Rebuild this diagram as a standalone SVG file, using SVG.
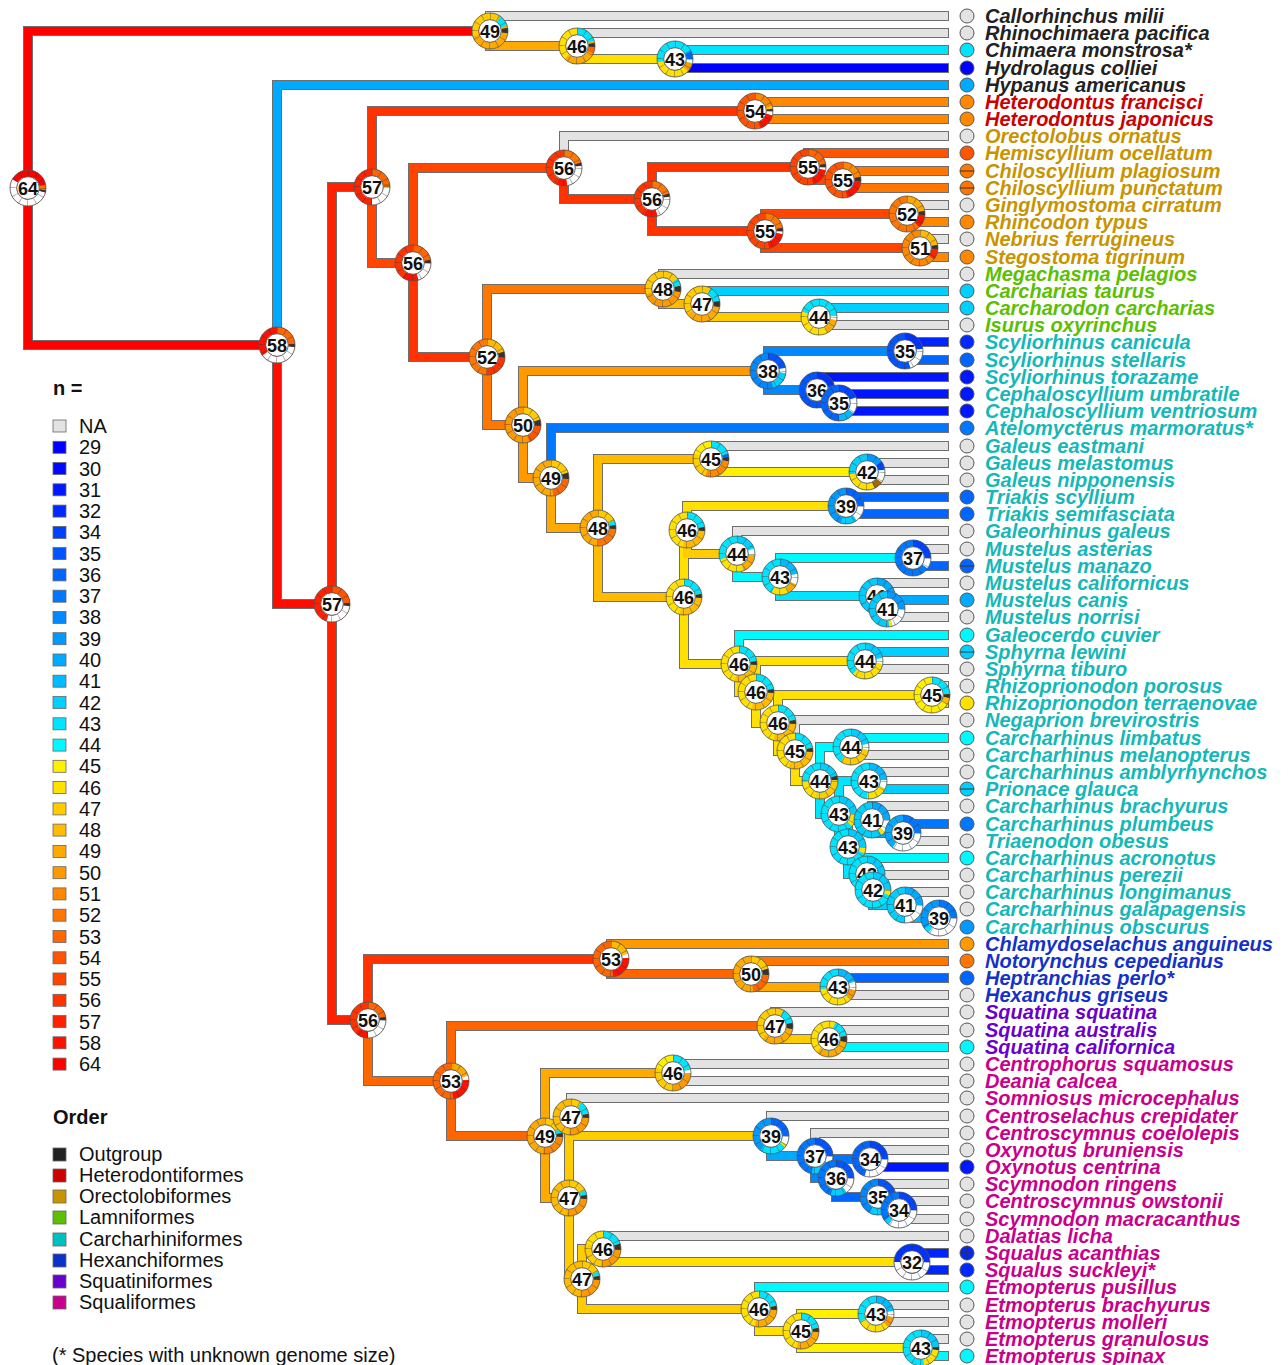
<svg xmlns="http://www.w3.org/2000/svg" xmlns:xlink="http://www.w3.org/1999/xlink" width="1288" height="1365" viewBox="0 0 1288 1365">
<style>
#edges path{fill:none;stroke-width:8;stroke-linecap:square;stroke-linejoin:miter}
.b{fill:none;stroke-width:6.5}
.sg circle{fill:none;stroke-width:6.5}
.nt{font:bold 18px "Liberation Sans",Arial,sans-serif;text-anchor:middle;fill:#111}
.lc{stroke:#555;stroke-width:1}
.sp{font:italic bold 20px "Liberation Sans",Arial,sans-serif}
.og{fill:#222}.ht{fill:#cc0000}.or{fill:#c89400}.la{fill:#5cc000}.ca{fill:#14b8b8}.hx{fill:#1432c8}.sq{fill:#6a00cc}.sl{fill:#c8008c}
.lg{font:20px "Liberation Sans",Arial,sans-serif;fill:#111}
.lh{font:bold 20px "Liberation Sans",Arial,sans-serif;fill:#111}
.ls{stroke:#666;stroke-width:.8}
.mk{stroke:#333;stroke-width:1}
</style>
<defs>
<filter id="ol" filterUnits="userSpaceOnUse" x="0" y="0" width="1288" height="1365">
<feMorphology in="SourceAlpha" operator="dilate" radius="1" result="d"/>
<feFlood flood-color="#6e6e6e" result="c"/>
<feComposite in="c" in2="d" operator="in" result="o"/>
<feMerge><feMergeNode in="o"/><feMergeNode in="SourceGraphic"/></feMerge>
</filter>
<g id="cap">
<circle r="14.75" fill="none" stroke="#333" stroke-width="6.5" stroke-opacity=".45" pathLength="100" stroke-dasharray="0.9 7.433"/>
<circle r="11.3" fill="#fff" stroke="#444" stroke-width=".8"/>
<circle r="18" fill="none" stroke="#555" stroke-width=".8"/>
</g>
</defs>
<rect width="1288" height="1365" fill="#fff"/>

<g id="edges" filter="url(#ol)">
<path stroke="#f00" d="M28 188V31H490"/>
<path stroke="#f00" d="M28 188V345H277"/>
<path stroke="#e3e3e3" d="M490 31V16H944"/>
<path stroke="#fa0" d="M490 31V46H577"/>
<path stroke="#e3e3e3" d="M577 46V33H944"/>
<path stroke="#ffe000" d="M577 46V59H675"/>
<path stroke="#00e4ff" d="M675 59V50H944"/>
<path stroke="#00f" d="M675 59V68H944"/>
<path stroke="#0af" d="M277 345V85H944"/>
<path stroke="#f10" d="M277 345V604H332"/>
<path stroke="#f20" d="M332 604V187H372"/>
<path stroke="#f20" d="M332 604V1020H368"/>
<path stroke="#f30" d="M372 187V111H755"/>
<path stroke="#f40" d="M372 187V263H413"/>
<path stroke="#f80" d="M755 111V102H944"/>
<path stroke="#f80" d="M755 111V119H944"/>
<path stroke="#f40" d="M413 263V168H564"/>
<path stroke="#f30" d="M413 263V357H487"/>
<path stroke="#e3e3e3" d="M564 168V136H944"/>
<path stroke="#f30" d="M564 168V199H652"/>
<path stroke="#f30" d="M652 199V167H808"/>
<path stroke="#f30" d="M652 199V231H765"/>
<path stroke="#f50" d="M808 167V153H944"/>
<path stroke="#f40" d="M808 167V180H843"/>
<path stroke="#f70" d="M843 180V171H944"/>
<path stroke="#f70" d="M843 180V188H944"/>
<path stroke="#f40" d="M765 231V214H907"/>
<path stroke="#f40" d="M765 231V248H920"/>
<path stroke="#e3e3e3" d="M907 214V205H944"/>
<path stroke="#f80" d="M907 214V222H944"/>
<path stroke="#e3e3e3" d="M920 248V239H944"/>
<path stroke="#f80" d="M920 248V257H944"/>
<path stroke="#f70" d="M487 357V289H663"/>
<path stroke="#f70" d="M487 357V425H523"/>
<path stroke="#e3e3e3" d="M663 289V274H944"/>
<path stroke="#fb0" d="M663 289V304H702"/>
<path stroke="#00d0ff" d="M702 304V291H944"/>
<path stroke="#fc0" d="M702 304V317H819"/>
<path stroke="#00d0ff" d="M819 317V308H944"/>
<path stroke="#e3e3e3" d="M819 317V325H944"/>
<path stroke="#f90" d="M523 425V371H768"/>
<path stroke="#f90" d="M523 425V478H551"/>
<path stroke="#08f" d="M768 371V351H905"/>
<path stroke="#08f" d="M768 371V390H817"/>
<path stroke="#0028ff" d="M905 351V342H944"/>
<path stroke="#06f" d="M905 351V360H944"/>
<path stroke="#0018ff" d="M817 390V377H944"/>
<path stroke="#08f" d="M817 390V403H839"/>
<path stroke="#0018ff" d="M839 403V394H944"/>
<path stroke="#0018ff" d="M839 403V411H944"/>
<path stroke="#07f" d="M551 478V428H944"/>
<path stroke="#fa0" d="M551 478V528H598"/>
<path stroke="#fb0" d="M598 528V459H711"/>
<path stroke="#fb0" d="M598 528V597H684"/>
<path stroke="#e3e3e3" d="M711 459V446H944"/>
<path stroke="#fff000" d="M711 459V472H867"/>
<path stroke="#e3e3e3" d="M867 472V463H944"/>
<path stroke="#e3e3e3" d="M867 472V480H944"/>
<path stroke="#ffe000" d="M684 597V530H687"/>
<path stroke="#ffe000" d="M684 597V664H739"/>
<path stroke="#ffe000" d="M687 530V506H846"/>
<path stroke="#fc0" d="M687 530V554H737"/>
<path stroke="#06f" d="M846 506V497H944"/>
<path stroke="#06f" d="M846 506V514H944"/>
<path stroke="#e3e3e3" d="M737 554V531H944"/>
<path stroke="#00f8ff" d="M737 554V577H780"/>
<path stroke="#00f8ff" d="M780 577V558H913"/>
<path stroke="#00e4ff" d="M780 577V596H877"/>
<path stroke="#e3e3e3" d="M913 558V549H944"/>
<path stroke="#06f" d="M913 558V566H944"/>
<path stroke="#e3e3e3" d="M877 596V583H944"/>
<path stroke="#00d0ff" d="M877 596V609H887"/>
<path stroke="#0af" d="M887 609V600H944"/>
<path stroke="#e3e3e3" d="M887 609V617H944"/>
<path stroke="#00f8ff" d="M739 664V635H944"/>
<path stroke="#ffe000" d="M739 664V692H756"/>
<path stroke="#ffe000" d="M756 692V661H865"/>
<path stroke="#ffe000" d="M756 692V723H778"/>
<path stroke="#00d0ff" d="M865 661V652H944"/>
<path stroke="#e3e3e3" d="M865 661V669H944"/>
<path stroke="#ffe000" d="M778 723V695H932"/>
<path stroke="#ffe000" d="M778 723V751H795"/>
<path stroke="#e3e3e3" d="M932 695V686H944"/>
<path stroke="#ffe000" d="M932 695V703H944"/>
<path stroke="#e3e3e3" d="M795 751V720H944"/>
<path stroke="#ffe000" d="M795 751V781H820"/>
<path stroke="#00f8ff" d="M820 781V747H851"/>
<path stroke="#00e4ff" d="M820 781V814H839"/>
<path stroke="#00f8ff" d="M851 747V738H944"/>
<path stroke="#e3e3e3" d="M851 747V755H944"/>
<path stroke="#00e4ff" d="M839 814V781H869"/>
<path stroke="#00e4ff" d="M839 814V847H848"/>
<path stroke="#e3e3e3" d="M869 781V772H944"/>
<path stroke="#00d0ff" d="M869 781V789H944"/>
<path stroke="#00e4ff" d="M848 847V820H872"/>
<path stroke="#00e4ff" d="M848 847V874H867"/>
<path stroke="#e3e3e3" d="M872 820V806H944"/>
<path stroke="#0af" d="M872 820V833H903"/>
<path stroke="#07f" d="M903 833V824H944"/>
<path stroke="#e3e3e3" d="M903 833V841H944"/>
<path stroke="#00f8ff" d="M867 874V858H944"/>
<path stroke="#00e4ff" d="M867 874V890H873"/>
<path stroke="#e3e3e3" d="M873 890V875H944"/>
<path stroke="#00d0ff" d="M873 890V905H905"/>
<path stroke="#e3e3e3" d="M905 905V892H944"/>
<path stroke="#0bf" d="M905 905V918H939"/>
<path stroke="#e3e3e3" d="M939 918V909H944"/>
<path stroke="#09f" d="M939 918V927H944"/>
<path stroke="#f30" d="M368 1020V959H611"/>
<path stroke="#f60" d="M368 1020V1081H451"/>
<path stroke="#f90" d="M611 959V944H944"/>
<path stroke="#f60" d="M611 959V974H751"/>
<path stroke="#f70" d="M751 974V961H944"/>
<path stroke="#fa0" d="M751 974V987H838"/>
<path stroke="#06f" d="M838 987V978H944"/>
<path stroke="#e3e3e3" d="M838 987V995H944"/>
<path stroke="#f60" d="M451 1081V1026H775"/>
<path stroke="#f60" d="M451 1081V1136H545"/>
<path stroke="#e3e3e3" d="M775 1026V1012H944"/>
<path stroke="#fc0" d="M775 1026V1039H829"/>
<path stroke="#e3e3e3" d="M829 1039V1030H944"/>
<path stroke="#00f8ff" d="M829 1039V1047H944"/>
<path stroke="#fa0" d="M545 1136V1073H673"/>
<path stroke="#fa0" d="M545 1136V1198H569"/>
<path stroke="#e3e3e3" d="M673 1073V1064H944"/>
<path stroke="#e3e3e3" d="M673 1073V1081H944"/>
<path stroke="#fc0" d="M569 1198V1117H571"/>
<path stroke="#fc0" d="M569 1198V1279H582"/>
<path stroke="#e3e3e3" d="M571 1117V1098H944"/>
<path stroke="#fc0" d="M571 1117V1136H771"/>
<path stroke="#e3e3e3" d="M771 1136V1116H944"/>
<path stroke="#0af" d="M771 1136V1156H815"/>
<path stroke="#e3e3e3" d="M815 1156V1133H944"/>
<path stroke="#08f" d="M815 1156V1178H836"/>
<path stroke="#07f" d="M836 1178V1159H870"/>
<path stroke="#06f" d="M836 1178V1197H878"/>
<path stroke="#e3e3e3" d="M870 1159V1150H944"/>
<path stroke="#0018ff" d="M870 1159V1167H944"/>
<path stroke="#e3e3e3" d="M878 1197V1184H944"/>
<path stroke="#05f" d="M878 1197V1210H899"/>
<path stroke="#e3e3e3" d="M899 1210V1201H944"/>
<path stroke="#e3e3e3" d="M899 1210V1219H944"/>
<path stroke="#fc0" d="M582 1279V1249H603"/>
<path stroke="#fc0" d="M582 1279V1309H759"/>
<path stroke="#e3e3e3" d="M603 1249V1236H944"/>
<path stroke="#ffe000" d="M603 1249V1262H912"/>
<path stroke="#0028ff" d="M912 1262V1253H944"/>
<path stroke="#0028ff" d="M912 1262V1270H944"/>
<path stroke="#00f8ff" d="M759 1309V1287H944"/>
<path stroke="#ffe000" d="M759 1309V1331H801"/>
<path stroke="#fff000" d="M801 1331V1314H876"/>
<path stroke="#fff000" d="M801 1331V1348H921"/>
<path stroke="#e3e3e3" d="M876 1314V1305H944"/>
<path stroke="#e3e3e3" d="M876 1314V1322H944"/>
<path stroke="#e3e3e3" d="M921 1348V1339H944"/>
<path stroke="#00f8ff" d="M921 1348V1356H944"/>
</g>

<g id="n64" transform="translate(28 188)"><circle class="b" r="14.75" stroke="#f00"/><g class="sg" transform="rotate(-90)"><circle r="14.75" pathLength="100" stroke="#fff" stroke-dasharray="54 100" stroke-dashoffset="-29"/><circle r="14.75" pathLength="100" stroke="#f70" stroke-dasharray="5 100" stroke-dashoffset="-22"/><circle r="14.75" pathLength="100" stroke="#333" stroke-dasharray="2 100" stroke-dashoffset="-27"/></g><use href="#cap"/><text class="nt" y="6.5">64</text></g>
<g id="nA49" transform="translate(490 31)"><circle class="b" r="14.75" stroke="#fa0"/><g class="sg" transform="rotate(-90)"><circle r="14.75" pathLength="100" stroke="#fc0" stroke-dasharray="30 100" stroke-dashoffset="-70"/><circle r="14.75" pathLength="100" stroke="#fc0" stroke-dasharray="10 100"/><circle r="14.75" pathLength="100" stroke="#00e4ff" stroke-dasharray="10 100" stroke-dashoffset="-10"/><circle r="14.75" pathLength="100" stroke="#333" stroke-dasharray="5 100" stroke-dashoffset="-22"/></g><use href="#cap"/><text class="nt" y="6.5">49</text></g>
<g id="nA46" transform="translate(577 46)"><circle class="b" r="14.75" stroke="#fa0"/><g class="sg" transform="rotate(-90)"><circle r="14.75" pathLength="100" stroke="#ffe000" stroke-dasharray="38 100" stroke-dashoffset="-62"/><circle r="14.75" pathLength="100" stroke="#00e4ff" stroke-dasharray="20 100"/><circle r="14.75" pathLength="100" stroke="#333" stroke-dasharray="4 100" stroke-dashoffset="-22"/><circle r="14.75" pathLength="100" stroke="#f60" stroke-dasharray="6 100" stroke-dashoffset="-26"/></g><use href="#cap"/><text class="nt" y="6.5">46</text></g>
<g id="nA43" transform="translate(675 59)"><circle class="b" r="14.75" stroke="#00e4ff"/><g class="sg" transform="rotate(-90)"><circle r="14.75" pathLength="100" stroke="#06f" stroke-dasharray="7 100" stroke-dashoffset="-18"/><circle r="14.75" pathLength="100" stroke="#fff" stroke-dasharray="4 100" stroke-dashoffset="-25"/><circle r="14.75" pathLength="100" stroke="#f90" stroke-dasharray="8 100" stroke-dashoffset="-29"/><circle r="14.75" pathLength="100" stroke="#ffe000" stroke-dasharray="35 100" stroke-dashoffset="-37"/></g><use href="#cap"/><text class="nt" y="6.5">43</text></g>
<g id="nB58" transform="translate(277 345)"><circle class="b" r="14.75" stroke="#f10"/><g class="sg" transform="rotate(-90)"><circle r="14.75" pathLength="100" stroke="#f60" stroke-dasharray="24 100"/><circle r="14.75" pathLength="100" stroke="#333" stroke-dasharray="3 100" stroke-dashoffset="-24"/><circle r="14.75" pathLength="100" stroke="#fff" stroke-dasharray="38 100" stroke-dashoffset="-27"/></g><use href="#cap"/><text class="nt" y="6.5">58</text></g>
<g id="nB57" transform="translate(332 604)"><circle class="b" r="14.75" stroke="#f20"/><g class="sg" transform="rotate(-90)"><circle r="14.75" pathLength="100" stroke="#f50" stroke-dasharray="24 100"/><circle r="14.75" pathLength="100" stroke="#333" stroke-dasharray="3 100" stroke-dashoffset="-24"/><circle r="14.75" pathLength="100" stroke="#fff" stroke-dasharray="28 100" stroke-dashoffset="-27"/></g><use href="#cap"/><text class="nt" y="6.5">57</text></g>
<g id="nC57" transform="translate(372 187)"><circle class="b" r="14.75" stroke="#f20"/><g class="sg" transform="rotate(-90)"><circle r="14.75" pathLength="100" stroke="#f60" stroke-dasharray="22 100"/><circle r="14.75" pathLength="100" stroke="#b60" stroke-dasharray="3 100" stroke-dashoffset="-22"/><circle r="14.75" pathLength="100" stroke="#fff" stroke-dasharray="25 100" stroke-dashoffset="-25"/></g><use href="#cap"/><text class="nt" y="6.5">57</text></g>
<g id="nC54" transform="translate(755 111)"><circle class="b" r="14.75" stroke="#f50"/><g class="sg" transform="rotate(-90)"><circle r="14.75" pathLength="100" stroke="#f80" stroke-dasharray="20 100"/><circle r="14.75" pathLength="100" stroke="#fc0" stroke-dasharray="3 100" stroke-dashoffset="-20"/><circle r="14.75" pathLength="100" stroke="#333" stroke-dasharray="2 100" stroke-dashoffset="-23"/><circle r="14.75" pathLength="100" stroke="#fff" stroke-dasharray="4 100" stroke-dashoffset="-25"/><circle r="14.75" pathLength="100" stroke="#f10" stroke-dasharray="16 100" stroke-dashoffset="-29"/></g><use href="#cap"/><text class="nt" y="6.5">54</text></g>
<g id="nC56a" transform="translate(413 263)"><circle class="b" r="14.75" stroke="#f30"/><g class="sg" transform="rotate(-90)"><circle r="14.75" pathLength="100" stroke="#f60" stroke-dasharray="22 100"/><circle r="14.75" pathLength="100" stroke="#333" stroke-dasharray="3 100" stroke-dashoffset="-22"/><circle r="14.75" pathLength="100" stroke="#fff" stroke-dasharray="20 100" stroke-dashoffset="-25"/><circle r="14.75" pathLength="100" stroke="#f10" stroke-dasharray="15 100" stroke-dashoffset="-45"/></g><use href="#cap"/><text class="nt" y="6.5">56</text></g>
<g id="nC56b" transform="translate(564 168)"><circle class="b" r="14.75" stroke="#f30"/><g class="sg" transform="rotate(-90)"><circle r="14.75" pathLength="100" stroke="#f70" stroke-dasharray="20 100"/><circle r="14.75" pathLength="100" stroke="#333" stroke-dasharray="3 100" stroke-dashoffset="-20"/><circle r="14.75" pathLength="100" stroke="#fff" stroke-dasharray="24 100" stroke-dashoffset="-23"/><circle r="14.75" pathLength="100" stroke="#f10" stroke-dasharray="10 100" stroke-dashoffset="-47"/></g><use href="#cap"/><text class="nt" y="6.5">56</text></g>
<g id="nC56c" transform="translate(652 199)"><circle class="b" r="14.75" stroke="#f30"/><g class="sg" transform="rotate(-90)"><circle r="14.75" pathLength="100" stroke="#f70" stroke-dasharray="20 100"/><circle r="14.75" pathLength="100" stroke="#333" stroke-dasharray="3 100" stroke-dashoffset="-20"/><circle r="14.75" pathLength="100" stroke="#fff" stroke-dasharray="22 100" stroke-dashoffset="-23"/><circle r="14.75" pathLength="100" stroke="#f10" stroke-dasharray="12 100" stroke-dashoffset="-45"/></g><use href="#cap"/><text class="nt" y="6.5">56</text></g>
<g id="nC55a" transform="translate(808 167)"><circle class="b" r="14.75" stroke="#f40"/><g class="sg" transform="rotate(-90)"><circle r="14.75" pathLength="100" stroke="#f60" stroke-dasharray="22 100"/><circle r="14.75" pathLength="100" stroke="#333" stroke-dasharray="3 100" stroke-dashoffset="-22"/><circle r="14.75" pathLength="100" stroke="#fff" stroke-dasharray="3 100" stroke-dashoffset="-25"/><circle r="14.75" pathLength="100" stroke="#f10" stroke-dasharray="17 100" stroke-dashoffset="-28"/></g><use href="#cap"/><text class="nt" y="6.5">55</text></g>
<g id="nC55c" transform="translate(843 180)"><circle class="b" r="14.75" stroke="#f50"/><g class="sg" transform="rotate(-90)"><circle r="14.75" pathLength="100" stroke="#f80" stroke-dasharray="22 100"/><circle r="14.75" pathLength="100" stroke="#333" stroke-dasharray="4 100" stroke-dashoffset="-22"/><circle r="14.75" pathLength="100" stroke="#f10" stroke-dasharray="20 100" stroke-dashoffset="-26"/></g><use href="#cap"/><text class="nt" y="6.5">55</text></g>
<g id="nC55b" transform="translate(765 231)"><circle class="b" r="14.75" stroke="#f40"/><g class="sg" transform="rotate(-90)"><circle r="14.75" pathLength="100" stroke="#f70" stroke-dasharray="22 100"/><circle r="14.75" pathLength="100" stroke="#333" stroke-dasharray="3 100" stroke-dashoffset="-22"/><circle r="14.75" pathLength="100" stroke="#fff" stroke-dasharray="3 100" stroke-dashoffset="-25"/><circle r="14.75" pathLength="100" stroke="#f10" stroke-dasharray="18 100" stroke-dashoffset="-28"/></g><use href="#cap"/><text class="nt" y="6.5">55</text></g>
<g id="nC52" transform="translate(907 214)"><circle class="b" r="14.75" stroke="#f70"/><g class="sg" transform="rotate(-90)"><circle r="14.75" pathLength="100" stroke="#fa0" stroke-dasharray="22 100"/><circle r="14.75" pathLength="100" stroke="#333" stroke-dasharray="4 100" stroke-dashoffset="-22"/><circle r="14.75" pathLength="100" stroke="#f10" stroke-dasharray="12 100" stroke-dashoffset="-26"/></g><use href="#cap"/><text class="nt" y="6.5">52</text></g>
<g id="nC51" transform="translate(920 248)"><circle class="b" r="14.75" stroke="#f80"/><g class="sg" transform="rotate(-90)"><circle r="14.75" pathLength="100" stroke="#fb0" stroke-dasharray="22 100"/><circle r="14.75" pathLength="100" stroke="#333" stroke-dasharray="4 100" stroke-dashoffset="-22"/><circle r="14.75" pathLength="100" stroke="#f20" stroke-dasharray="10 100" stroke-dashoffset="-26"/></g><use href="#cap"/><text class="nt" y="6.5">51</text></g>
<g id="nD52" transform="translate(487 357)"><circle class="b" r="14.75" stroke="#f70"/><g class="sg" transform="rotate(-90)"><circle r="14.75" pathLength="100" stroke="#fb0" stroke-dasharray="20 100"/><circle r="14.75" pathLength="100" stroke="#333" stroke-dasharray="5 100" stroke-dashoffset="-20"/><circle r="14.75" pathLength="100" stroke="#f30" stroke-dasharray="25 100" stroke-dashoffset="-25"/></g><use href="#cap"/><text class="nt" y="6.5">52</text></g>
<g id="nD48" transform="translate(663 289)"><circle class="b" r="14.75" stroke="#f90"/><g class="sg" transform="rotate(-90)"><circle r="14.75" pathLength="100" stroke="#fc0" stroke-dasharray="30 100" stroke-dashoffset="-70"/><circle r="14.75" pathLength="100" stroke="#fc0" stroke-dasharray="15 100"/><circle r="14.75" pathLength="100" stroke="#00e4ff" stroke-dasharray="7 100" stroke-dashoffset="-15"/><circle r="14.75" pathLength="100" stroke="#333" stroke-dasharray="6 100" stroke-dashoffset="-22"/></g><use href="#cap"/><text class="nt" y="6.5">48</text></g>
<g id="nD47" transform="translate(702 304)"><circle class="b" r="14.75" stroke="#fa0"/><g class="sg" transform="rotate(-90)"><circle r="14.75" pathLength="100" stroke="#fc0" stroke-dasharray="35 100" stroke-dashoffset="-65"/><circle r="14.75" pathLength="100" stroke="#fc0" stroke-dasharray="8 100"/><circle r="14.75" pathLength="100" stroke="#00e4ff" stroke-dasharray="14 100" stroke-dashoffset="-8"/><circle r="14.75" pathLength="100" stroke="#333" stroke-dasharray="6 100" stroke-dashoffset="-22"/></g><use href="#cap"/><text class="nt" y="6.5">47</text></g>
<g id="nD44" transform="translate(819 317)"><circle class="b" r="14.75" stroke="#ffe000"/><g class="sg" transform="rotate(-90)"><circle r="14.75" pathLength="100" stroke="#00e4ff" stroke-dasharray="20 100" stroke-dashoffset="-80"/><circle r="14.75" pathLength="100" stroke="#00e4ff" stroke-dasharray="24 100"/><circle r="14.75" pathLength="100" stroke="#fff" stroke-dasharray="4 100" stroke-dashoffset="-24"/><circle r="14.75" pathLength="100" stroke="#fa0" stroke-dasharray="14 100" stroke-dashoffset="-28"/></g><use href="#cap"/><text class="nt" y="6.5">44</text></g>
<g id="nD50" transform="translate(523 425)"><circle class="b" r="14.75" stroke="#f90"/><g class="sg" transform="rotate(-90)"><circle r="14.75" pathLength="100" stroke="#fc0" stroke-dasharray="20 100"/><circle r="14.75" pathLength="100" stroke="#333" stroke-dasharray="6 100" stroke-dashoffset="-20"/><circle r="14.75" pathLength="100" stroke="#f50" stroke-dasharray="18 100" stroke-dashoffset="-26"/></g><use href="#cap"/><text class="nt" y="6.5">50</text></g>
<g id="nD38" transform="translate(768 371)"><circle class="b" r="14.75" stroke="#08f"/><g class="sg" transform="rotate(-90)"><circle r="14.75" pathLength="100" stroke="#05f" stroke-dasharray="22 100"/><circle r="14.75" pathLength="100" stroke="#fff" stroke-dasharray="5 100" stroke-dashoffset="-22"/><circle r="14.75" pathLength="100" stroke="#00d0ff" stroke-dasharray="18 100" stroke-dashoffset="-27"/></g><use href="#cap"/><text class="nt" y="6.5">38</text></g>
<g id="nD35a" transform="translate(905 351)"><circle class="b" r="14.75" stroke="#05f"/><g class="sg" transform="rotate(-90)"><circle r="14.75" pathLength="100" stroke="#03f" stroke-dasharray="23 100"/><circle r="14.75" pathLength="100" stroke="#fff" stroke-dasharray="22 100" stroke-dashoffset="-23"/></g><use href="#cap"/><text class="nt" y="6.5">35</text></g>
<g id="nD36" transform="translate(817 390)"><circle class="b" r="14.75" stroke="#05f"/><g class="sg" transform="rotate(-90)"><circle r="14.75" pathLength="100" stroke="#03f" stroke-dasharray="20 100"/><circle r="14.75" pathLength="100" stroke="#fff" stroke-dasharray="4 100" stroke-dashoffset="-22"/></g><use href="#cap"/><text class="nt" y="6.5">36</text></g>
<g id="nD35b" transform="translate(839 403)"><circle class="b" r="14.75" stroke="#06f"/><g class="sg" transform="rotate(-90)"><circle r="14.75" pathLength="100" stroke="#04f" stroke-dasharray="20 100"/><circle r="14.75" pathLength="100" stroke="#fff" stroke-dasharray="15 100" stroke-dashoffset="-20"/><circle r="14.75" pathLength="100" stroke="#0bf" stroke-dasharray="15 100" stroke-dashoffset="-35"/></g><use href="#cap"/><text class="nt" y="6.5">35</text></g>
<g id="nD49" transform="translate(551 478)"><circle class="b" r="14.75" stroke="#fa0"/><g class="sg" transform="rotate(-90)"><circle r="14.75" pathLength="100" stroke="#fc0" stroke-dasharray="20 100"/><circle r="14.75" pathLength="100" stroke="#333" stroke-dasharray="6 100" stroke-dashoffset="-20"/><circle r="14.75" pathLength="100" stroke="#f60" stroke-dasharray="22 100" stroke-dashoffset="-26"/></g><use href="#cap"/><text class="nt" y="6.5">49</text></g>
<g id="nD48b" transform="translate(598 528)"><circle class="b" r="14.75" stroke="#fa0"/><g class="sg" transform="rotate(-90)"><circle r="14.75" pathLength="100" stroke="#fc0" stroke-dasharray="18 100"/><circle r="14.75" pathLength="100" stroke="#00e4ff" stroke-dasharray="4 100" stroke-dashoffset="-18"/><circle r="14.75" pathLength="100" stroke="#333" stroke-dasharray="4 100" stroke-dashoffset="-22"/><circle r="14.75" pathLength="100" stroke="#f70" stroke-dasharray="24 100" stroke-dashoffset="-26"/></g><use href="#cap"/><text class="nt" y="6.5">48</text></g>
<g id="nD45" transform="translate(711 459)"><circle class="b" r="14.75" stroke="#fc0"/><g class="sg" transform="rotate(-90)"><circle r="14.75" pathLength="100" stroke="#00e4ff" stroke-dasharray="20 100"/><circle r="14.75" pathLength="100" stroke="#06f" stroke-dasharray="3 100" stroke-dashoffset="-20"/><circle r="14.75" pathLength="100" stroke="#333" stroke-dasharray="4 100" stroke-dashoffset="-23"/><circle r="14.75" pathLength="100" stroke="#f80" stroke-dasharray="28 100" stroke-dashoffset="-27"/><circle r="14.75" pathLength="100" stroke="#fe0" stroke-dasharray="20 100" stroke-dashoffset="-80"/></g><use href="#cap"/><text class="nt" y="6.5">45</text></g>
<g id="nD42" transform="translate(867 472)"><circle class="b" r="14.75" stroke="#00d0ff"/><g class="sg" transform="rotate(-90)"><circle r="14.75" pathLength="100" stroke="#09f" stroke-dasharray="15 100"/><circle r="14.75" pathLength="100" stroke="#04f" stroke-dasharray="8 100" stroke-dashoffset="-15"/><circle r="14.75" pathLength="100" stroke="#fff" stroke-dasharray="12 100" stroke-dashoffset="-23"/><circle r="14.75" pathLength="100" stroke="#a60" stroke-dasharray="8 100" stroke-dashoffset="-35"/><circle r="14.75" pathLength="100" stroke="#ffe000" stroke-dasharray="30 100" stroke-dashoffset="-43"/></g><use href="#cap"/><text class="nt" y="6.5">42</text></g>
<g id="nE46a" transform="translate(684 597)"><circle class="b" r="14.75" stroke="#ffe000"/><g class="sg" transform="rotate(-90)"><circle r="14.75" pathLength="100" stroke="#00e4ff" stroke-dasharray="22 100"/><circle r="14.75" pathLength="100" stroke="#333" stroke-dasharray="4 100" stroke-dashoffset="-22"/><circle r="14.75" pathLength="100" stroke="#fb0" stroke-dasharray="28 100" stroke-dashoffset="-26"/></g><use href="#cap"/><text class="nt" y="6.5">46</text></g>
<g id="nE46b" transform="translate(687 530)"><circle class="b" r="14.75" stroke="#ffe000"/><g class="sg" transform="rotate(-90)"><circle r="14.75" pathLength="100" stroke="#00e4ff" stroke-dasharray="22 100"/><circle r="14.75" pathLength="100" stroke="#333" stroke-dasharray="4 100" stroke-dashoffset="-22"/><circle r="14.75" pathLength="100" stroke="#fb0" stroke-dasharray="28 100" stroke-dashoffset="-26"/></g><use href="#cap"/><text class="nt" y="6.5">46</text></g>
<g id="nE39" transform="translate(846 506)"><circle class="b" r="14.75" stroke="#09f"/><g class="sg" transform="rotate(-90)"><circle r="14.75" pathLength="100" stroke="#06f" stroke-dasharray="25 100"/><circle r="14.75" pathLength="100" stroke="#fff" stroke-dasharray="15 100" stroke-dashoffset="-25"/><circle r="14.75" pathLength="100" stroke="#00d0ff" stroke-dasharray="15 100" stroke-dashoffset="-40"/></g><use href="#cap"/><text class="nt" y="6.5">39</text></g>
<g id="nE44" transform="translate(737 554)"><circle class="b" r="14.75" stroke="#00e4ff"/><g class="sg" transform="rotate(-90)"><circle r="14.75" pathLength="100" stroke="#00d0ff" stroke-dasharray="20 100"/><circle r="14.75" pathLength="100" stroke="#fff" stroke-dasharray="6 100" stroke-dashoffset="-20"/><circle r="14.75" pathLength="100" stroke="#fa0" stroke-dasharray="18 100" stroke-dashoffset="-26"/><circle r="14.75" pathLength="100" stroke="#ffe000" stroke-dasharray="26 100" stroke-dashoffset="-44"/></g><use href="#cap"/><text class="nt" y="6.5">44</text></g>
<g id="nE43" transform="translate(780 577)"><circle class="b" r="14.75" stroke="#00e4ff"/><g class="sg" transform="rotate(-90)"><circle r="14.75" pathLength="100" stroke="#0bf" stroke-dasharray="22 100"/><circle r="14.75" pathLength="100" stroke="#fff" stroke-dasharray="10 100" stroke-dashoffset="-22"/><circle r="14.75" pathLength="100" stroke="#fa0" stroke-dasharray="10 100" stroke-dashoffset="-32"/><circle r="14.75" pathLength="100" stroke="#ffe000" stroke-dasharray="16 100" stroke-dashoffset="-42"/></g><use href="#cap"/><text class="nt" y="6.5">43</text></g>
<g id="nE37" transform="translate(913 558)"><circle class="b" r="14.75" stroke="#07f"/><g class="sg" transform="rotate(-90)"><circle r="14.75" pathLength="100" stroke="#04f" stroke-dasharray="25 100"/><circle r="14.75" pathLength="100" stroke="#fff" stroke-dasharray="10 100" stroke-dashoffset="-25"/></g><use href="#cap"/><text class="nt" y="6.5">37</text></g>
<g id="nE41a" transform="translate(877 596)"><circle class="b" r="14.75" stroke="#0cf"/><g class="sg" transform="rotate(-90)"><circle r="14.75" pathLength="100" stroke="#0af" stroke-dasharray="25 100"/><circle r="14.75" pathLength="100" stroke="#fff" stroke-dasharray="12 100" stroke-dashoffset="-25"/></g><use href="#cap"/><text class="nt" y="6.5">41</text></g>
<g id="nE41b" transform="translate(887 609)"><circle class="b" r="14.75" stroke="#0cf"/><g class="sg" transform="rotate(-90)"><circle r="14.75" pathLength="100" stroke="#09f" stroke-dasharray="25 100"/><circle r="14.75" pathLength="100" stroke="#fff" stroke-dasharray="20 100" stroke-dashoffset="-25"/><circle r="14.75" pathLength="100" stroke="#ffe000" stroke-dasharray="3 100" stroke-dashoffset="-45"/></g><use href="#cap"/><text class="nt" y="6.5">41</text></g>
<g id="nF46c" transform="translate(739 664)"><circle class="b" r="14.75" stroke="#ffe000"/><g class="sg" transform="rotate(-90)"><circle r="14.75" pathLength="100" stroke="#00e4ff" stroke-dasharray="22 100"/><circle r="14.75" pathLength="100" stroke="#333" stroke-dasharray="4 100" stroke-dashoffset="-22"/><circle r="14.75" pathLength="100" stroke="#fb0" stroke-dasharray="28 100" stroke-dashoffset="-26"/></g><use href="#cap"/><text class="nt" y="6.5">46</text></g>
<g id="nF46d" transform="translate(756 692)"><circle class="b" r="14.75" stroke="#ffe000"/><g class="sg" transform="rotate(-90)"><circle r="14.75" pathLength="100" stroke="#00e4ff" stroke-dasharray="22 100"/><circle r="14.75" pathLength="100" stroke="#333" stroke-dasharray="4 100" stroke-dashoffset="-22"/><circle r="14.75" pathLength="100" stroke="#fb0" stroke-dasharray="28 100" stroke-dashoffset="-26"/></g><use href="#cap"/><text class="nt" y="6.5">46</text></g>
<g id="nF44c" transform="translate(865 661)"><circle class="b" r="14.75" stroke="#00e4ff"/><g class="sg" transform="rotate(-90)"><circle r="14.75" pathLength="100" stroke="#0cf" stroke-dasharray="22 100"/><circle r="14.75" pathLength="100" stroke="#fff" stroke-dasharray="6 100" stroke-dashoffset="-22"/><circle r="14.75" pathLength="100" stroke="#ffe000" stroke-dasharray="34 100" stroke-dashoffset="-28"/></g><use href="#cap"/><text class="nt" y="6.5">44</text></g>
<g id="nF46e" transform="translate(778 723)"><circle class="b" r="14.75" stroke="#ffe000"/><g class="sg" transform="rotate(-90)"><circle r="14.75" pathLength="100" stroke="#00e4ff" stroke-dasharray="22 100"/><circle r="14.75" pathLength="100" stroke="#333" stroke-dasharray="4 100" stroke-dashoffset="-22"/><circle r="14.75" pathLength="100" stroke="#fb0" stroke-dasharray="28 100" stroke-dashoffset="-26"/></g><use href="#cap"/><text class="nt" y="6.5">46</text></g>
<g id="nF45b" transform="translate(932 695)"><circle class="b" r="14.75" stroke="#fe0"/><g class="sg" transform="rotate(-90)"><circle r="14.75" pathLength="100" stroke="#00e4ff" stroke-dasharray="24 100"/><circle r="14.75" pathLength="100" stroke="#333" stroke-dasharray="4 100" stroke-dashoffset="-24"/><circle r="14.75" pathLength="100" stroke="#fb0" stroke-dasharray="6 100" stroke-dashoffset="-28"/></g><use href="#cap"/><text class="nt" y="6.5">45</text></g>
<g id="nF45c" transform="translate(795 751)"><circle class="b" r="14.75" stroke="#ffe000"/><g class="sg" transform="rotate(-90)"><circle r="14.75" pathLength="100" stroke="#00e4ff" stroke-dasharray="22 100"/><circle r="14.75" pathLength="100" stroke="#333" stroke-dasharray="4 100" stroke-dashoffset="-22"/><circle r="14.75" pathLength="100" stroke="#fb0" stroke-dasharray="30 100" stroke-dashoffset="-26"/></g><use href="#cap"/><text class="nt" y="6.5">45</text></g>
<g id="nF44e" transform="translate(820 781)"><circle class="b" r="14.75" stroke="#00e4ff"/><g class="sg" transform="rotate(-90)"><circle r="14.75" pathLength="100" stroke="#00d0ff" stroke-dasharray="20 100"/><circle r="14.75" pathLength="100" stroke="#333" stroke-dasharray="4 100" stroke-dashoffset="-20"/><circle r="14.75" pathLength="100" stroke="#fc0" stroke-dasharray="30 100" stroke-dashoffset="-24"/><circle r="14.75" pathLength="100" stroke="#ffe000" stroke-dasharray="20 100" stroke-dashoffset="-54"/></g><use href="#cap"/><text class="nt" y="6.5">44</text></g>
<g id="nF44d" transform="translate(851 747)"><circle class="b" r="14.75" stroke="#00e4ff"/><g class="sg" transform="rotate(-90)"><circle r="14.75" pathLength="100" stroke="#0cf" stroke-dasharray="22 100"/><circle r="14.75" pathLength="100" stroke="#fff" stroke-dasharray="6 100" stroke-dashoffset="-22"/><circle r="14.75" pathLength="100" stroke="#fc0" stroke-dasharray="32 100" stroke-dashoffset="-28"/></g><use href="#cap"/><text class="nt" y="6.5">44</text></g>
<g id="nF43c" transform="translate(839 814)"><circle class="b" r="14.75" stroke="#00e4ff"/><g class="sg" transform="rotate(-90)"><circle r="14.75" pathLength="100" stroke="#0cf" stroke-dasharray="25 100"/><circle r="14.75" pathLength="100" stroke="#ffe000" stroke-dasharray="12 100" stroke-dashoffset="-25"/></g><use href="#cap"/><text class="nt" y="6.5">43</text></g>
<g id="nF43b" transform="translate(869 781)"><circle class="b" r="14.75" stroke="#00e4ff"/><g class="sg" transform="rotate(-90)"><circle r="14.75" pathLength="100" stroke="#0bf" stroke-dasharray="24 100"/><circle r="14.75" pathLength="100" stroke="#fff" stroke-dasharray="8 100" stroke-dashoffset="-24"/><circle r="14.75" pathLength="100" stroke="#ffe000" stroke-dasharray="20 100" stroke-dashoffset="-32"/></g><use href="#cap"/><text class="nt" y="6.5">43</text></g>
<g id="nF43d" transform="translate(848 847)"><circle class="b" r="14.75" stroke="#00e4ff"/><g class="sg" transform="rotate(-90)"><circle r="14.75" pathLength="100" stroke="#0cf" stroke-dasharray="25 100"/><circle r="14.75" pathLength="100" stroke="#ffe000" stroke-dasharray="6 100" stroke-dashoffset="-25"/></g><use href="#cap"/><text class="nt" y="6.5">43</text></g>
<g id="nF41c" transform="translate(872 820)"><circle class="b" r="14.75" stroke="#00d0ff"/><g class="sg" transform="rotate(-90)"><circle r="14.75" pathLength="100" stroke="#0af" stroke-dasharray="25 100"/><circle r="14.75" pathLength="100" stroke="#fff" stroke-dasharray="12 100" stroke-dashoffset="-25"/><circle r="14.75" pathLength="100" stroke="#ffe000" stroke-dasharray="4 100" stroke-dashoffset="-37"/></g><use href="#cap"/><text class="nt" y="6.5">41</text></g>
<g id="nF39b" transform="translate(903 833)"><circle class="b" r="14.75" stroke="#0af"/><g class="sg" transform="rotate(-90)"><circle r="14.75" pathLength="100" stroke="#07f" stroke-dasharray="25 100"/><circle r="14.75" pathLength="100" stroke="#fff" stroke-dasharray="35 100" stroke-dashoffset="-25"/></g><use href="#cap"/><text class="nt" y="6.5">39</text></g>
<g id="nF43e" transform="translate(867 874)"><circle class="b" r="14.75" stroke="#00e4ff"/><g class="sg" transform="rotate(-90)"><circle r="14.75" pathLength="100" stroke="#0cf" stroke-dasharray="25 100"/></g><use href="#cap"/><text class="nt" y="6.5">43</text></g>
<g id="nF42b" transform="translate(873 890)"><circle class="b" r="14.75" stroke="#00e4ff"/><g class="sg" transform="rotate(-90)"><circle r="14.75" pathLength="100" stroke="#0cf" stroke-dasharray="25 100"/><circle r="14.75" pathLength="100" stroke="#ffe000" stroke-dasharray="5 100" stroke-dashoffset="-25"/></g><use href="#cap"/><text class="nt" y="6.5">42</text></g>
<g id="nF41d" transform="translate(905 905)"><circle class="b" r="14.75" stroke="#00d0ff"/><g class="sg" transform="rotate(-90)"><circle r="14.75" pathLength="100" stroke="#0af" stroke-dasharray="25 100"/><circle r="14.75" pathLength="100" stroke="#fff" stroke-dasharray="25 100" stroke-dashoffset="-25"/></g><use href="#cap"/><text class="nt" y="6.5">41</text></g>
<g id="nF39c" transform="translate(939 918)"><circle class="b" r="14.75" stroke="#09f"/><g class="sg" transform="rotate(-90)"><circle r="14.75" pathLength="100" stroke="#07f" stroke-dasharray="25 100"/><circle r="14.75" pathLength="100" stroke="#fff" stroke-dasharray="35 100" stroke-dashoffset="-25"/><circle r="14.75" pathLength="100" stroke="#00e4ff" stroke-dasharray="5 100" stroke-dashoffset="-60"/></g><use href="#cap"/><text class="nt" y="6.5">39</text></g>
<g id="nG56" transform="translate(368 1020)"><circle class="b" r="14.75" stroke="#f30"/><g class="sg" transform="rotate(-90)"><circle r="14.75" pathLength="100" stroke="#f60" stroke-dasharray="22 100"/><circle r="14.75" pathLength="100" stroke="#333" stroke-dasharray="3 100" stroke-dashoffset="-22"/><circle r="14.75" pathLength="100" stroke="#fff" stroke-dasharray="25 100" stroke-dashoffset="-25"/><circle r="14.75" pathLength="100" stroke="#f10" stroke-dasharray="12 100" stroke-dashoffset="-50"/></g><use href="#cap"/><text class="nt" y="6.5">56</text></g>
<g id="nG53a" transform="translate(611 959)"><circle class="b" r="14.75" stroke="#f60"/><g class="sg" transform="rotate(-90)"><circle r="14.75" pathLength="100" stroke="#fb0" stroke-dasharray="20 100"/><circle r="14.75" pathLength="100" stroke="#fff" stroke-dasharray="4 100" stroke-dashoffset="-20"/><circle r="14.75" pathLength="100" stroke="#f10" stroke-dasharray="24 100" stroke-dashoffset="-24"/></g><use href="#cap"/><text class="nt" y="6.5">53</text></g>
<g id="nG50" transform="translate(751 974)"><circle class="b" r="14.75" stroke="#fa0"/><g class="sg" transform="rotate(-90)"><circle r="14.75" pathLength="100" stroke="#fc0" stroke-dasharray="20 100"/><circle r="14.75" pathLength="100" stroke="#333" stroke-dasharray="6 100" stroke-dashoffset="-20"/><circle r="14.75" pathLength="100" stroke="#f60" stroke-dasharray="22 100" stroke-dashoffset="-26"/></g><use href="#cap"/><text class="nt" y="6.5">50</text></g>
<g id="nG43" transform="translate(838 987)"><circle class="b" r="14.75" stroke="#00e4ff"/><g class="sg" transform="rotate(-90)"><circle r="14.75" pathLength="100" stroke="#0bf" stroke-dasharray="20 100"/><circle r="14.75" pathLength="100" stroke="#fff" stroke-dasharray="8 100" stroke-dashoffset="-20"/><circle r="14.75" pathLength="100" stroke="#f90" stroke-dasharray="10 100" stroke-dashoffset="-28"/><circle r="14.75" pathLength="100" stroke="#ffe000" stroke-dasharray="35 100" stroke-dashoffset="-38"/></g><use href="#cap"/><text class="nt" y="6.5">43</text></g>
<g id="nG53b" transform="translate(451 1081)"><circle class="b" r="14.75" stroke="#f60"/><g class="sg" transform="rotate(-90)"><circle r="14.75" pathLength="100" stroke="#fa0" stroke-dasharray="20 100"/><circle r="14.75" pathLength="100" stroke="#fff" stroke-dasharray="4 100" stroke-dashoffset="-20"/><circle r="14.75" pathLength="100" stroke="#f10" stroke-dasharray="24 100" stroke-dashoffset="-24"/></g><use href="#cap"/><text class="nt" y="6.5">53</text></g>
<g id="nG47a" transform="translate(775 1026)"><circle class="b" r="14.75" stroke="#fa0"/><g class="sg" transform="rotate(-90)"><circle r="14.75" pathLength="100" stroke="#fc0" stroke-dasharray="38 100" stroke-dashoffset="-62"/><circle r="14.75" pathLength="100" stroke="#fc0" stroke-dasharray="8 100"/><circle r="14.75" pathLength="100" stroke="#00e4ff" stroke-dasharray="14 100" stroke-dashoffset="-8"/><circle r="14.75" pathLength="100" stroke="#333" stroke-dasharray="6 100" stroke-dashoffset="-22"/></g><use href="#cap"/><text class="nt" y="6.5">47</text></g>
<g id="nG46f" transform="translate(829 1039)"><circle class="b" r="14.75" stroke="#fa0"/><g class="sg" transform="rotate(-90)"><circle r="14.75" pathLength="100" stroke="#ffe000" stroke-dasharray="38 100" stroke-dashoffset="-62"/><circle r="14.75" pathLength="100" stroke="#ffe000" stroke-dasharray="6 100"/><circle r="14.75" pathLength="100" stroke="#00e4ff" stroke-dasharray="16 100" stroke-dashoffset="-6"/><circle r="14.75" pathLength="100" stroke="#333" stroke-dasharray="6 100" stroke-dashoffset="-22"/></g><use href="#cap"/><text class="nt" y="6.5">46</text></g>
<g id="nH49" transform="translate(545 1136)"><circle class="b" r="14.75" stroke="#fa0"/><g class="sg" transform="rotate(-90)"><circle r="14.75" pathLength="100" stroke="#fc0" stroke-dasharray="18 100"/><circle r="14.75" pathLength="100" stroke="#00e4ff" stroke-dasharray="4 100" stroke-dashoffset="-18"/><circle r="14.75" pathLength="100" stroke="#333" stroke-dasharray="4 100" stroke-dashoffset="-22"/><circle r="14.75" pathLength="100" stroke="#f80" stroke-dasharray="26 100" stroke-dashoffset="-26"/></g><use href="#cap"/><text class="nt" y="6.5">49</text></g>
<g id="nH46g" transform="translate(673 1073)"><circle class="b" r="14.75" stroke="#fc0"/><g class="sg" transform="rotate(-90)"><circle r="14.75" pathLength="100" stroke="#00e4ff" stroke-dasharray="22 100"/><circle r="14.75" pathLength="100" stroke="#fff" stroke-dasharray="4 100" stroke-dashoffset="-22"/><circle r="14.75" pathLength="100" stroke="#f90" stroke-dasharray="24 100" stroke-dashoffset="-26"/><circle r="14.75" pathLength="100" stroke="#fe0" stroke-dasharray="20 100" stroke-dashoffset="-80"/></g><use href="#cap"/><text class="nt" y="6.5">46</text></g>
<g id="nH47c" transform="translate(569 1198)"><circle class="b" r="14.75" stroke="#fb0"/><g class="sg" transform="rotate(-90)"><circle r="14.75" pathLength="100" stroke="#fc0" stroke-dasharray="18 100"/><circle r="14.75" pathLength="100" stroke="#00e4ff" stroke-dasharray="4 100" stroke-dashoffset="-18"/><circle r="14.75" pathLength="100" stroke="#333" stroke-dasharray="4 100" stroke-dashoffset="-22"/><circle r="14.75" pathLength="100" stroke="#f90" stroke-dasharray="26 100" stroke-dashoffset="-26"/></g><use href="#cap"/><text class="nt" y="6.5">47</text></g>
<g id="nH47b" transform="translate(571 1117)"><circle class="b" r="14.75" stroke="#fb0"/><g class="sg" transform="rotate(-90)"><circle r="14.75" pathLength="100" stroke="#fc0" stroke-dasharray="10 100"/><circle r="14.75" pathLength="100" stroke="#00e4ff" stroke-dasharray="12 100" stroke-dashoffset="-10"/><circle r="14.75" pathLength="100" stroke="#333" stroke-dasharray="4 100" stroke-dashoffset="-22"/><circle r="14.75" pathLength="100" stroke="#f90" stroke-dasharray="26 100" stroke-dashoffset="-26"/></g><use href="#cap"/><text class="nt" y="6.5">47</text></g>
<g id="nH39" transform="translate(771 1136)"><circle class="b" r="14.75" stroke="#09f"/><g class="sg" transform="rotate(-90)"><circle r="14.75" pathLength="100" stroke="#06f" stroke-dasharray="25 100"/><circle r="14.75" pathLength="100" stroke="#fff" stroke-dasharray="8 100" stroke-dashoffset="-25"/><circle r="14.75" pathLength="100" stroke="#ffe000" stroke-dasharray="3 100" stroke-dashoffset="-33"/><circle r="14.75" pathLength="100" stroke="#00e4ff" stroke-dasharray="24 100" stroke-dashoffset="-36"/></g><use href="#cap"/><text class="nt" y="6.5">39</text></g>
<g id="nH37" transform="translate(815 1156)"><circle class="b" r="14.75" stroke="#07f"/><g class="sg" transform="rotate(-90)"><circle r="14.75" pathLength="100" stroke="#05f" stroke-dasharray="25 100"/><circle r="14.75" pathLength="100" stroke="#fff" stroke-dasharray="8 100" stroke-dashoffset="-25"/><circle r="14.75" pathLength="100" stroke="#00d0ff" stroke-dasharray="20 100" stroke-dashoffset="-33"/></g><use href="#cap"/><text class="nt" y="6.5">37</text></g>
<g id="nH36" transform="translate(836 1178)"><circle class="b" r="14.75" stroke="#07f"/><g class="sg" transform="rotate(-90)"><circle r="14.75" pathLength="100" stroke="#05f" stroke-dasharray="25 100"/><circle r="14.75" pathLength="100" stroke="#fff" stroke-dasharray="15 100" stroke-dashoffset="-25"/><circle r="14.75" pathLength="100" stroke="#00d0ff" stroke-dasharray="15 100" stroke-dashoffset="-40"/></g><use href="#cap"/><text class="nt" y="6.5">36</text></g>
<g id="nH34a" transform="translate(870 1159)"><circle class="b" r="14.75" stroke="#06f"/><g class="sg" transform="rotate(-90)"><circle r="14.75" pathLength="100" stroke="#04f" stroke-dasharray="25 100"/><circle r="14.75" pathLength="100" stroke="#fff" stroke-dasharray="30 100" stroke-dashoffset="-25"/></g><use href="#cap"/><text class="nt" y="6.5">34</text></g>
<g id="nH35" transform="translate(878 1197)"><circle class="b" r="14.75" stroke="#08f"/><g class="sg" transform="rotate(-90)"><circle r="14.75" pathLength="100" stroke="#05f" stroke-dasharray="25 100"/><circle r="14.75" pathLength="100" stroke="#fff" stroke-dasharray="18 100" stroke-dashoffset="-25"/><circle r="14.75" pathLength="100" stroke="#00d0ff" stroke-dasharray="15 100" stroke-dashoffset="-43"/></g><use href="#cap"/><text class="nt" y="6.5">35</text></g>
<g id="nH34b" transform="translate(899 1210)"><circle class="b" r="14.75" stroke="#07f"/><g class="sg" transform="rotate(-90)"><circle r="14.75" pathLength="100" stroke="#04f" stroke-dasharray="25 100"/><circle r="14.75" pathLength="100" stroke="#fff" stroke-dasharray="35 100" stroke-dashoffset="-25"/><circle r="14.75" pathLength="100" stroke="#00d0ff" stroke-dasharray="5 100" stroke-dashoffset="-60"/></g><use href="#cap"/><text class="nt" y="6.5">34</text></g>
<g id="nI47d" transform="translate(582 1279)"><circle class="b" r="14.75" stroke="#fb0"/><g class="sg" transform="rotate(-90)"><circle r="14.75" pathLength="100" stroke="#fc0" stroke-dasharray="18 100"/><circle r="14.75" pathLength="100" stroke="#00e4ff" stroke-dasharray="4 100" stroke-dashoffset="-18"/><circle r="14.75" pathLength="100" stroke="#333" stroke-dasharray="4 100" stroke-dashoffset="-22"/><circle r="14.75" pathLength="100" stroke="#f90" stroke-dasharray="26 100" stroke-dashoffset="-26"/></g><use href="#cap"/><text class="nt" y="6.5">47</text></g>
<g id="nI46h" transform="translate(603 1249)"><circle class="b" r="14.75" stroke="#fc0"/><g class="sg" transform="rotate(-90)"><circle r="14.75" pathLength="100" stroke="#00e4ff" stroke-dasharray="20 100"/><circle r="14.75" pathLength="100" stroke="#333" stroke-dasharray="6 100" stroke-dashoffset="-20"/><circle r="14.75" pathLength="100" stroke="#f90" stroke-dasharray="26 100" stroke-dashoffset="-26"/><circle r="14.75" pathLength="100" stroke="#ffe000" stroke-dasharray="20 100" stroke-dashoffset="-80"/></g><use href="#cap"/><text class="nt" y="6.5">46</text></g>
<g id="nI32" transform="translate(912 1262)"><circle class="b" r="14.75" stroke="#03f"/><g class="sg" transform="rotate(-90)"><circle r="14.75" pathLength="100" stroke="#fff" stroke-dasharray="50 100" stroke-dashoffset="-25"/></g><use href="#cap"/><text class="nt" y="6.5">32</text></g>
<g id="nI46i" transform="translate(759 1309)"><circle class="b" r="14.75" stroke="#ffe000"/><g class="sg" transform="rotate(-90)"><circle r="14.75" pathLength="100" stroke="#00e4ff" stroke-dasharray="22 100"/><circle r="14.75" pathLength="100" stroke="#333" stroke-dasharray="4 100" stroke-dashoffset="-22"/><circle r="14.75" pathLength="100" stroke="#fa0" stroke-dasharray="28 100" stroke-dashoffset="-26"/></g><use href="#cap"/><text class="nt" y="6.5">46</text></g>
<g id="nI45d" transform="translate(801 1331)"><circle class="b" r="14.75" stroke="#ffe000"/><g class="sg" transform="rotate(-90)"><circle r="14.75" pathLength="100" stroke="#00e4ff" stroke-dasharray="22 100"/><circle r="14.75" pathLength="100" stroke="#333" stroke-dasharray="4 100" stroke-dashoffset="-22"/><circle r="14.75" pathLength="100" stroke="#fa0" stroke-dasharray="28 100" stroke-dashoffset="-26"/></g><use href="#cap"/><text class="nt" y="6.5">45</text></g>
<g id="nI43g" transform="translate(876 1314)"><circle class="b" r="14.75" stroke="#00e4ff"/><g class="sg" transform="rotate(-90)"><circle r="14.75" pathLength="100" stroke="#0bf" stroke-dasharray="22 100"/><circle r="14.75" pathLength="100" stroke="#fff" stroke-dasharray="6 100" stroke-dashoffset="-22"/><circle r="14.75" pathLength="100" stroke="#f90" stroke-dasharray="10 100" stroke-dashoffset="-28"/><circle r="14.75" pathLength="100" stroke="#ffe000" stroke-dasharray="30 100" stroke-dashoffset="-38"/></g><use href="#cap"/><text class="nt" y="6.5">43</text></g>
<g id="nI43h" transform="translate(921 1348)"><circle class="b" r="14.75" stroke="#00e4ff"/><g class="sg" transform="rotate(-90)"><circle r="14.75" pathLength="100" stroke="#0cf" stroke-dasharray="24 100"/><circle r="14.75" pathLength="100" stroke="#333" stroke-dasharray="3 100" stroke-dashoffset="-24"/><circle r="14.75" pathLength="100" stroke="#ffe000" stroke-dasharray="20 100" stroke-dashoffset="-27"/></g><use href="#cap"/><text class="nt" y="6.5">43</text></g>

<g id="L1"><circle class="lc" cx="967" cy="16" r="7" fill="#e3e3e3"/><text class="sp og" x="985" y="23">Callorhinchus milii</text></g>
<g id="L2"><circle class="lc" cx="967" cy="33" r="7" fill="#e3e3e3"/><text class="sp og" x="985" y="40">Rhinochimaera pacifica</text></g>
<g id="L3"><circle class="lc" cx="967" cy="50" r="7" fill="#00e4ff"/><text class="sp og" x="985" y="57">Chimaera monstrosa*</text></g>
<g id="L4"><circle class="lc" cx="967" cy="68" r="7" fill="#00f"/><text class="sp og" x="985" y="75">Hydrolagus colliei</text></g>
<g id="L5"><circle class="lc" cx="967" cy="85" r="7" fill="#0af"/><text class="sp og" x="985" y="92">Hypanus americanus</text></g>
<g id="L6"><circle class="lc" cx="967" cy="102" r="7" fill="#f80"/><text class="sp ht" x="985" y="109">Heterodontus francisci</text></g>
<g id="L7"><circle class="lc" cx="967" cy="119" r="7" fill="#f80"/><text class="sp ht" x="985" y="126">Heterodontus japonicus</text></g>
<g id="L8"><circle class="lc" cx="967" cy="136" r="7" fill="#e3e3e3"/><text class="sp or" x="985" y="143">Orectolobus ornatus</text></g>
<g id="L9"><circle class="lc" cx="967" cy="153" r="7" fill="#f50"/><text class="sp or" x="985" y="160">Hemiscyllium ocellatum</text></g>
<g id="L10"><circle class="lc" cx="967" cy="171" r="7" fill="#f70"/><path class="mk" d="M960 171H974"/><text class="sp or" x="985" y="178">Chiloscyllium plagiosum</text></g>
<g id="L11"><circle class="lc" cx="967" cy="188" r="7" fill="#f70"/><path class="mk" d="M960 188H974"/><text class="sp or" x="985" y="195">Chiloscyllium punctatum</text></g>
<g id="L12"><circle class="lc" cx="967" cy="205" r="7" fill="#e3e3e3"/><text class="sp or" x="985" y="212">Ginglymostoma cirratum</text></g>
<g id="L13"><circle class="lc" cx="967" cy="222" r="7" fill="#f80"/><text class="sp or" x="985" y="229">Rhincodon typus</text></g>
<g id="L14"><circle class="lc" cx="967" cy="239" r="7" fill="#e3e3e3"/><text class="sp or" x="985" y="246">Nebrius ferrugineus</text></g>
<g id="L15"><circle class="lc" cx="967" cy="257" r="7" fill="#f80"/><text class="sp or" x="985" y="264">Stegostoma tigrinum</text></g>
<g id="L16"><circle class="lc" cx="967" cy="274" r="7" fill="#e3e3e3"/><text class="sp la" x="985" y="281">Megachasma pelagios</text></g>
<g id="L17"><circle class="lc" cx="967" cy="291" r="7" fill="#00d0ff"/><text class="sp la" x="985" y="298">Carcharias taurus</text></g>
<g id="L18"><circle class="lc" cx="967" cy="308" r="7" fill="#00d0ff"/><text class="sp la" x="985" y="315">Carcharodon carcharias</text></g>
<g id="L19"><circle class="lc" cx="967" cy="325" r="7" fill="#e3e3e3"/><text class="sp la" x="985" y="332">Isurus oxyrinchus</text></g>
<g id="L20"><circle class="lc" cx="967" cy="342" r="7" fill="#0028ff"/><text class="sp ca" x="985" y="349">Scyliorhinus canicula</text></g>
<g id="L21"><circle class="lc" cx="967" cy="360" r="7" fill="#06f"/><text class="sp ca" x="985" y="367">Scyliorhinus stellaris</text></g>
<g id="L22"><circle class="lc" cx="967" cy="377" r="7" fill="#0018ff"/><text class="sp ca" x="985" y="384">Scyliorhinus torazame</text></g>
<g id="L23"><circle class="lc" cx="967" cy="394" r="7" fill="#0018ff"/><text class="sp ca" x="985" y="401">Cephaloscyllium umbratile</text></g>
<g id="L24"><circle class="lc" cx="967" cy="411" r="7" fill="#0018ff"/><text class="sp ca" x="985" y="418">Cephaloscyllium ventriosum</text></g>
<g id="L25"><circle class="lc" cx="967" cy="428" r="7" fill="#07f"/><text class="sp ca" x="985" y="435">Atelomycterus marmoratus*</text></g>
<g id="L26"><circle class="lc" cx="967" cy="446" r="7" fill="#e3e3e3"/><text class="sp ca" x="985" y="453">Galeus eastmani</text></g>
<g id="L27"><circle class="lc" cx="967" cy="463" r="7" fill="#e3e3e3"/><text class="sp ca" x="985" y="470">Galeus melastomus</text></g>
<g id="L28"><circle class="lc" cx="967" cy="480" r="7" fill="#e3e3e3"/><text class="sp ca" x="985" y="487">Galeus nipponensis</text></g>
<g id="L29"><circle class="lc" cx="967" cy="497" r="7" fill="#06f"/><text class="sp ca" x="985" y="504">Triakis scyllium</text></g>
<g id="L30"><circle class="lc" cx="967" cy="514" r="7" fill="#06f"/><text class="sp ca" x="985" y="521">Triakis semifasciata</text></g>
<g id="L31"><circle class="lc" cx="967" cy="531" r="7" fill="#e3e3e3"/><text class="sp ca" x="985" y="538">Galeorhinus galeus</text></g>
<g id="L32"><circle class="lc" cx="967" cy="549" r="7" fill="#e3e3e3"/><text class="sp ca" x="985" y="556">Mustelus asterias</text></g>
<g id="L33"><circle class="lc" cx="967" cy="566" r="7" fill="#06f"/><path class="mk" d="M960 566H974"/><text class="sp ca" x="985" y="573">Mustelus manazo</text></g>
<g id="L34"><circle class="lc" cx="967" cy="583" r="7" fill="#e3e3e3"/><text class="sp ca" x="985" y="590">Mustelus californicus</text></g>
<g id="L35"><circle class="lc" cx="967" cy="600" r="7" fill="#0af"/><text class="sp ca" x="985" y="607">Mustelus canis</text></g>
<g id="L36"><circle class="lc" cx="967" cy="617" r="7" fill="#e3e3e3"/><text class="sp ca" x="985" y="624">Mustelus norrisi</text></g>
<g id="L37"><circle class="lc" cx="967" cy="635" r="7" fill="#00f8ff"/><text class="sp ca" x="985" y="642">Galeocerdo cuvier</text></g>
<g id="L38"><circle class="lc" cx="967" cy="652" r="7" fill="#00d0ff"/><path class="mk" d="M960 652H974"/><text class="sp ca" x="985" y="659">Sphyrna lewini</text></g>
<g id="L39"><circle class="lc" cx="967" cy="669" r="7" fill="#e3e3e3"/><text class="sp ca" x="985" y="676">Sphyrna tiburo</text></g>
<g id="L40"><circle class="lc" cx="967" cy="686" r="7" fill="#e3e3e3"/><text class="sp ca" x="985" y="693">Rhizoprionodon porosus</text></g>
<g id="L41"><circle class="lc" cx="967" cy="703" r="7" fill="#ffe000"/><text class="sp ca" x="985" y="710">Rhizoprionodon terraenovae</text></g>
<g id="L42"><circle class="lc" cx="967" cy="720" r="7" fill="#e3e3e3"/><text class="sp ca" x="985" y="727">Negaprion brevirostris</text></g>
<g id="L43"><circle class="lc" cx="967" cy="738" r="7" fill="#00f8ff"/><text class="sp ca" x="985" y="745">Carcharhinus limbatus</text></g>
<g id="L44"><circle class="lc" cx="967" cy="755" r="7" fill="#e3e3e3"/><text class="sp ca" x="985" y="762">Carcharhinus melanopterus</text></g>
<g id="L45"><circle class="lc" cx="967" cy="772" r="7" fill="#e3e3e3"/><text class="sp ca" x="985" y="779">Carcharhinus amblyrhynchos</text></g>
<g id="L46"><circle class="lc" cx="967" cy="789" r="7" fill="#00d0ff"/><path class="mk" d="M960 789H974"/><text class="sp ca" x="985" y="796">Prionace glauca</text></g>
<g id="L47"><circle class="lc" cx="967" cy="806" r="7" fill="#e3e3e3"/><text class="sp ca" x="985" y="813">Carcharhinus brachyurus</text></g>
<g id="L48"><circle class="lc" cx="967" cy="824" r="7" fill="#07f"/><text class="sp ca" x="985" y="831">Carcharhinus plumbeus</text></g>
<g id="L49"><circle class="lc" cx="967" cy="841" r="7" fill="#e3e3e3"/><text class="sp ca" x="985" y="848">Triaenodon obesus</text></g>
<g id="L50"><circle class="lc" cx="967" cy="858" r="7" fill="#00f8ff"/><text class="sp ca" x="985" y="865">Carcharhinus acronotus</text></g>
<g id="L51"><circle class="lc" cx="967" cy="875" r="7" fill="#e3e3e3"/><text class="sp ca" x="985" y="882">Carcharhinus perezii</text></g>
<g id="L52"><circle class="lc" cx="967" cy="892" r="7" fill="#e3e3e3"/><text class="sp ca" x="985" y="899">Carcharhinus longimanus</text></g>
<g id="L53"><circle class="lc" cx="967" cy="909" r="7" fill="#e3e3e3"/><text class="sp ca" x="985" y="916">Carcharhinus galapagensis</text></g>
<g id="L54"><circle class="lc" cx="967" cy="927" r="7" fill="#09f"/><text class="sp ca" x="985" y="934">Carcharhinus obscurus</text></g>
<g id="L55"><circle class="lc" cx="967" cy="944" r="7" fill="#f90"/><text class="sp hx" x="985" y="951">Chlamydoselachus anguineus</text></g>
<g id="L56"><circle class="lc" cx="967" cy="961" r="7" fill="#f70"/><text class="sp hx" x="985" y="968">Notorynchus cepedianus</text></g>
<g id="L57"><circle class="lc" cx="967" cy="978" r="7" fill="#06f"/><text class="sp hx" x="985" y="985">Heptranchias perlo*</text></g>
<g id="L58"><circle class="lc" cx="967" cy="995" r="7" fill="#e3e3e3"/><text class="sp hx" x="985" y="1002">Hexanchus griseus</text></g>
<g id="L59"><circle class="lc" cx="967" cy="1012" r="7" fill="#e3e3e3"/><text class="sp sq" x="985" y="1019">Squatina squatina</text></g>
<g id="L60"><circle class="lc" cx="967" cy="1030" r="7" fill="#e3e3e3"/><text class="sp sq" x="985" y="1037">Squatina australis</text></g>
<g id="L61"><circle class="lc" cx="967" cy="1047" r="7" fill="#00f8ff"/><text class="sp sq" x="985" y="1054">Squatina californica</text></g>
<g id="L62"><circle class="lc" cx="967" cy="1064" r="7" fill="#e3e3e3"/><text class="sp sl" x="985" y="1071">Centrophorus squamosus</text></g>
<g id="L63"><circle class="lc" cx="967" cy="1081" r="7" fill="#e3e3e3"/><text class="sp sl" x="985" y="1088">Deania calcea</text></g>
<g id="L64"><circle class="lc" cx="967" cy="1098" r="7" fill="#e3e3e3"/><text class="sp sl" x="985" y="1105">Somniosus microcephalus</text></g>
<g id="L65"><circle class="lc" cx="967" cy="1116" r="7" fill="#e3e3e3"/><text class="sp sl" x="985" y="1123">Centroselachus crepidater</text></g>
<g id="L66"><circle class="lc" cx="967" cy="1133" r="7" fill="#e3e3e3"/><text class="sp sl" x="985" y="1140">Centroscymnus coelolepis</text></g>
<g id="L67"><circle class="lc" cx="967" cy="1150" r="7" fill="#e3e3e3"/><text class="sp sl" x="985" y="1157">Oxynotus bruniensis</text></g>
<g id="L68"><circle class="lc" cx="967" cy="1167" r="7" fill="#0018ff"/><text class="sp sl" x="985" y="1174">Oxynotus centrina</text></g>
<g id="L69"><circle class="lc" cx="967" cy="1184" r="7" fill="#e3e3e3"/><text class="sp sl" x="985" y="1191">Scymnodon ringens</text></g>
<g id="L70"><circle class="lc" cx="967" cy="1201" r="7" fill="#e3e3e3"/><text class="sp sl" x="985" y="1208">Centroscymnus owstonii</text></g>
<g id="L71"><circle class="lc" cx="967" cy="1219" r="7" fill="#e3e3e3"/><text class="sp sl" x="985" y="1226">Scymnodon macracanthus</text></g>
<g id="L72"><circle class="lc" cx="967" cy="1236" r="7" fill="#e3e3e3"/><text class="sp sl" x="985" y="1243">Dalatias licha</text></g>
<g id="L73"><circle class="lc" cx="967" cy="1253" r="7" fill="#0028ff"/><path class="mk" d="M960 1253H974M967 1246V1260"/><text class="sp sl" x="985" y="1260">Squalus acanthias</text></g>
<g id="L74"><circle class="lc" cx="967" cy="1270" r="7" fill="#0028ff"/><text class="sp sl" x="985" y="1277">Squalus suckleyi*</text></g>
<g id="L75"><circle class="lc" cx="967" cy="1287" r="7" fill="#00f8ff"/><text class="sp sl" x="985" y="1294">Etmopterus pusillus</text></g>
<g id="L76"><circle class="lc" cx="967" cy="1305" r="7" fill="#e3e3e3"/><text class="sp sl" x="985" y="1312">Etmopterus brachyurus</text></g>
<g id="L77"><circle class="lc" cx="967" cy="1322" r="7" fill="#e3e3e3"/><text class="sp sl" x="985" y="1329">Etmopterus molleri</text></g>
<g id="L78"><circle class="lc" cx="967" cy="1339" r="7" fill="#e3e3e3"/><text class="sp sl" x="985" y="1346">Etmopterus granulosus</text></g>
<g id="L79"><circle class="lc" cx="967" cy="1356" r="7" fill="#00f8ff"/><text class="sp sl" x="985" y="1363">Etmopterus spinax</text></g>

<g id="legend-n">
<text class="lh" x="53" y="395">n =</text>
<rect class="ls" x="53" y="420" width="13" height="12" fill="#e3e3e3"/><text class="lg" x="79" y="433">NA</text>
<rect class="ls" x="53" y="441.3" width="13" height="12" fill="#0000ff"/><text class="lg" x="79" y="454.3">29</text>
<rect class="ls" x="53" y="462.5" width="13" height="12" fill="#0008ff"/><text class="lg" x="79" y="475.5">30</text>
<rect class="ls" x="53" y="483.8" width="13" height="12" fill="#0018ff"/><text class="lg" x="79" y="496.8">31</text>
<rect class="ls" x="53" y="505.1" width="13" height="12" fill="#0028ff"/><text class="lg" x="79" y="518.1">32</text>
<rect class="ls" x="53" y="526.4" width="13" height="12" fill="#0040ff"/><text class="lg" x="79" y="539.4">34</text>
<rect class="ls" x="53" y="547.6" width="13" height="12" fill="#0055ff"/><text class="lg" x="79" y="560.6">35</text>
<rect class="ls" x="53" y="568.9" width="13" height="12" fill="#0066ff"/><text class="lg" x="79" y="581.9">36</text>
<rect class="ls" x="53" y="590.2" width="13" height="12" fill="#0077ff"/><text class="lg" x="79" y="603.2">37</text>
<rect class="ls" x="53" y="611.4" width="13" height="12" fill="#0088ff"/><text class="lg" x="79" y="624.4">38</text>
<rect class="ls" x="53" y="632.7" width="13" height="12" fill="#0099ff"/><text class="lg" x="79" y="645.7">39</text>
<rect class="ls" x="53" y="654" width="13" height="12" fill="#00aaff"/><text class="lg" x="79" y="667">40</text>
<rect class="ls" x="53" y="675.2" width="13" height="12" fill="#00bbff"/><text class="lg" x="79" y="688.2">41</text>
<rect class="ls" x="53" y="696.5" width="13" height="12" fill="#00d0ff"/><text class="lg" x="79" y="709.5">42</text>
<rect class="ls" x="53" y="717.8" width="13" height="12" fill="#00e4ff"/><text class="lg" x="79" y="730.8">43</text>
<rect class="ls" x="53" y="739.1" width="13" height="12" fill="#00f8ff"/><text class="lg" x="79" y="752.1">44</text>
<rect class="ls" x="53" y="760.3" width="13" height="12" fill="#fff000"/><text class="lg" x="79" y="773.3">45</text>
<rect class="ls" x="53" y="781.6" width="13" height="12" fill="#ffe000"/><text class="lg" x="79" y="794.6">46</text>
<rect class="ls" x="53" y="802.9" width="13" height="12" fill="#ffcc00"/><text class="lg" x="79" y="815.9">47</text>
<rect class="ls" x="53" y="824.1" width="13" height="12" fill="#ffbb00"/><text class="lg" x="79" y="837.1">48</text>
<rect class="ls" x="53" y="845.4" width="13" height="12" fill="#ffaa00"/><text class="lg" x="79" y="858.4">49</text>
<rect class="ls" x="53" y="866.7" width="13" height="12" fill="#ff9900"/><text class="lg" x="79" y="879.7">50</text>
<rect class="ls" x="53" y="887.9" width="13" height="12" fill="#ff8800"/><text class="lg" x="79" y="900.9">51</text>
<rect class="ls" x="53" y="909.2" width="13" height="12" fill="#ff7700"/><text class="lg" x="79" y="922.2">52</text>
<rect class="ls" x="53" y="930.5" width="13" height="12" fill="#ff6600"/><text class="lg" x="79" y="943.5">53</text>
<rect class="ls" x="53" y="951.8" width="13" height="12" fill="#ff5500"/><text class="lg" x="79" y="964.8">54</text>
<rect class="ls" x="53" y="973" width="13" height="12" fill="#ff4400"/><text class="lg" x="79" y="986">55</text>
<rect class="ls" x="53" y="994.3" width="13" height="12" fill="#ff3300"/><text class="lg" x="79" y="1007.3">56</text>
<rect class="ls" x="53" y="1015.6" width="13" height="12" fill="#ff2200"/><text class="lg" x="79" y="1028.6">57</text>
<rect class="ls" x="53" y="1036.8" width="13" height="12" fill="#ff1100"/><text class="lg" x="79" y="1049.8">58</text>
<rect class="ls" x="53" y="1058.1" width="13" height="12" fill="#ff0000"/><text class="lg" x="79" y="1071.1">64</text>
</g>

<g id="legend-order">
<text class="lh" x="53" y="1124">Order</text>
<rect class="ls" x="53" y="1148" width="13" height="13" fill="#222"/><text class="lg" x="79" y="1161">Outgroup</text>
<rect class="ls" x="53" y="1169" width="13" height="13" fill="#cc0000"/><text class="lg" x="79" y="1182">Heterodontiformes</text>
<rect class="ls" x="53" y="1190" width="13" height="13" fill="#c89400"/><text class="lg" x="79" y="1203">Orectolobiformes</text>
<rect class="ls" x="53" y="1211" width="13" height="13" fill="#5cc000"/><text class="lg" x="79" y="1224">Lamniformes</text>
<rect class="ls" x="53" y="1233" width="13" height="13" fill="#00c0c0"/><text class="lg" x="79" y="1246">Carcharhiniformes</text>
<rect class="ls" x="53" y="1254" width="13" height="13" fill="#0a32c8"/><text class="lg" x="79" y="1267">Hexanchiformes</text>
<rect class="ls" x="53" y="1275" width="13" height="13" fill="#6a00cc"/><text class="lg" x="79" y="1288">Squatiniformes</text>
<rect class="ls" x="53" y="1296" width="13" height="13" fill="#c8008c"/><text class="lg" x="79" y="1309">Squaliformes</text>
<text class="lg" x="52" y="1362">(* Species with unknown genome size)</text>
</g>
</svg>
